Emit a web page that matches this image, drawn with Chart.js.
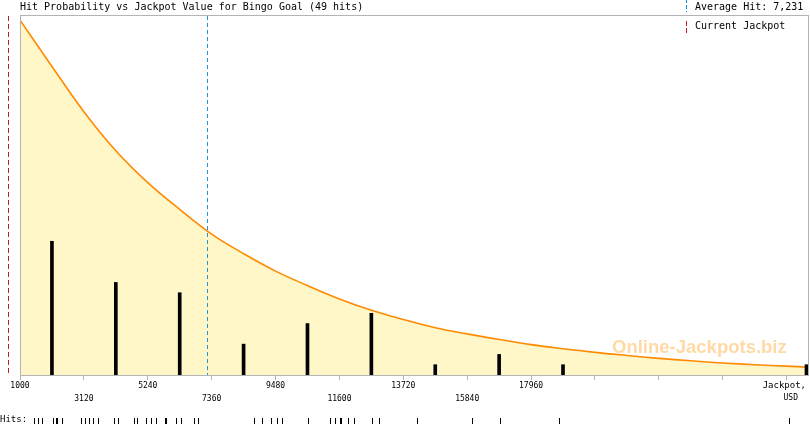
<!DOCTYPE html>
<html>
<head>
<meta charset="utf-8">
<script src="https://cdn.jsdelivr.net/npm/chart.js@4.4.0/dist/chart.umd.min.js"></script>
<style>
    html, body { margin: 0; padding: 0; background: #ffffff; }
    #wrap { width: 810px; height: 425px; }
</style>
</head>
<body>
<div id="wrap"><canvas id="hits" width="810" height="425"></canvas></div>
<script>
// probability curve, in hit units (same y scale as the bars)
const curveJackpots = [1000, 2060, 3120, 4180, 5240, 6300, 7360, 8420, 9480, 10540, 11600, 12660, 13720,
    14780, 15840, 16900, 17960, 19020, 20080, 21140, 22200, 23260, 24320, 25380, 26440, 27150];
const curveValues = [34.5, 30.0, 25.6, 21.8, 18.7, 16.1, 13.7, 11.8, 10.1, 8.7, 7.4, 6.3, 5.4,
    4.6, 4.0, 3.45, 2.95, 2.55, 2.2, 1.9, 1.62, 1.38, 1.17, 1.0, 0.86, 0.76];

// histogram of hits per 2120 USD bin
const binCenters = [2060, 4180, 6300, 8420, 10540, 12660, 14780, 16900, 19020, 27100];
const binHits = [13, 9, 8, 3, 5, 6, 1, 2, 1, 1];

// every single hit (jackpot value in USD)
const hitValues = [1482, 1482, 1615, 1615, 1748, 1748, 2113, 2113, 2213, 2246, 2412, 2412, 3044,
    3177, 3310, 3442, 3609, 4140, 4273, 4805, 4905, 5204,
    5370, 5536, 5835, 5868, 6201, 6367, 6799, 6932,
    8793, 9059, 9358,
    9557, 9723, 10587, 11318, 11484,
    11651, 11684, 11917, 12117, 12682, 12915,
    14178, 16005, 16936, 18897, 26540];

const xTicks = [1000, 3120, 5240, 7360, 9480, 11600, 13720, 15840, 17960, 20080, 22200, 24320, 26440];
const xTickLabels = ['1000', '3120', '5240', '7360', '9480', '11600', '13720', '15840', '17960', '', '', '', ''];

const averageHit = 7231;
const currentJackpot = 628;

const MONO = "'DejaVu Sans Mono', monospace";
Chart.defaults.font.family = MONO;

function dashedLine(ctx, x, y0, y1, color, dash) {
    ctx.strokeStyle = color;
    ctx.lineWidth = 1;
    ctx.setLineDash(dash);
    ctx.beginPath();
    ctx.moveTo(x, y0);
    ctx.lineTo(x, y1);
    ctx.stroke();
}

const decorations = {
    id: 'decorations',
    afterDatasetsDraw(chart) {
        const ctx = chart.ctx;
        ctx.save();
        // watermark
        ctx.fillStyle = '#ffd9a6';
        ctx.font = "bold 18.5px 'Liberation Sans', Arial, sans-serif";
        ctx.textBaseline = 'alphabetic';
        ctx.textAlign = 'left';
        ctx.fillText('Online-Jackpots.biz', 612, 353);
        ctx.restore();
    },
    afterDraw(chart) {
        const ctx = chart.ctx;
        const area = chart.chartArea;
        const x = chart.scales.x;

        ctx.save();
        // plot box
        ctx.strokeStyle = '#b4b4b4';
        ctx.lineWidth = 1;
        ctx.strokeRect(Math.floor(area.left) + 0.5, Math.floor(area.top) + 0.5,
            Math.round(area.right - area.left), Math.round(area.bottom - area.top));

        // average hit and current jackpot lines
        const ax = Math.floor(x.getPixelForValue(averageHit)) + 0.5;
        dashedLine(ctx, ax, area.top + 1, area.bottom, '#1f95dc', [4, 3]);
        const cx = Math.floor(x.getPixelForValue(currentJackpot)) + 0.5;
        dashedLine(ctx, cx, area.top + 1, area.bottom, '#c41e1e', [5, 3]);

        // legend marks
        dashedLine(ctx, 686.5, -1, 12, '#1f95dc', [4, 2]);
        dashedLine(ctx, 686.5, 21, 34, '#c41e1e', [5, 2]);
        ctx.setLineDash([]);

        // title and legend text
        ctx.fillStyle = '#000000';
        ctx.font = '10px ' + MONO;
        ctx.textBaseline = 'middle';
        ctx.textAlign = 'left';
        ctx.fillText('Hit Probability vs Jackpot Value for Bingo Goal (49 hits)', 20, 7);
        ctx.fillText('Average Hit: ' + averageHit.toLocaleString('en-US'), 695, 7);
        ctx.fillText('Current Jackpot', 695, 26);

        // axis title
        ctx.textAlign = 'right';
        ctx.font = '9px ' + MONO;
        ctx.fillText('Jackpot,', 806, 386);
        ctx.font = '8px ' + MONO;
        ctx.fillText('USD', 798, 398);

        // hits rug
        ctx.textAlign = 'left';
        ctx.font = '9px ' + MONO;
        ctx.fillText('Hits:', 0, 420);
        ctx.strokeStyle = '#000000';
        ctx.beginPath();
        hitValues.forEach(v => {
            const px = Math.floor(x.getPixelForValue(v)) + 0.5;
            ctx.moveTo(px, 418);
            ctx.lineTo(px, 424);
        });
        ctx.stroke();
        ctx.restore();
    }
};

const ctx1 = document.getElementById('hits').getContext('2d');
const chart1 = new Chart(ctx1, {
    data: {
        datasets: [{
            type: 'bar',
            label: 'Hits',
            data: binCenters.map((c, i) => ({ x: c, y: binHits[i] })),
            backgroundColor: '#000000',
            barThickness: 3,
            order: 0
        }, {
            type: 'line',
            label: 'Probability',
            data: curveJackpots.map((j, i) => ({ x: j, y: curveValues[i] })),
            borderColor: '#ff8a00',
            backgroundColor: '#fff7c8',
            borderWidth: 1.6,
            pointRadius: 0,
            fill: 'origin',
            tension: 0.4,
            order: 1
        }]
    },
    options: {
        responsive: false,
        devicePixelRatio: 1,
        animation: false,
        events: [],
        layout: {
            padding: { left: 20, right: 2, top: 15, bottom: 20 }
        },
        scales: {
            x: {
                type: 'linear',
                offset: false,
                min: 1000,
                max: 27150,
                afterBuildTicks: scale => {
                    scale.ticks = xTicks.map(v => ({ value: v }));
                },
                afterFit: scale => {
                    scale.height = 30;
                },
                grid: {
                    offset: false,
                    drawOnChartArea: false,
                    drawTicks: true,
                    tickLength: 5,
                    color: '#b4b4b4'
                },
                border: {
                    display: true,
                    color: '#b4b4b4'
                },
                ticks: {
                    autoSkip: false,
                    maxRotation: 0,
                    padding: 0,
                    color: '#000000',
                    font: { size: 8, lineHeight: 1.5625 },
                    callback: (value, index) => {
                        const t = xTickLabels[index];
                        if (!t) return '';
                        return index % 2 === 0 ? [t, ''] : ['', t];
                    }
                }
            },
            y: {
                display: false,
                min: 0,
                max: 35
            }
        },
        plugins: {
            legend: { display: false },
            tooltip: { enabled: false },
            title: { display: false }
        }
    },
    plugins: [decorations]
});
</script>
</body>
</html>
